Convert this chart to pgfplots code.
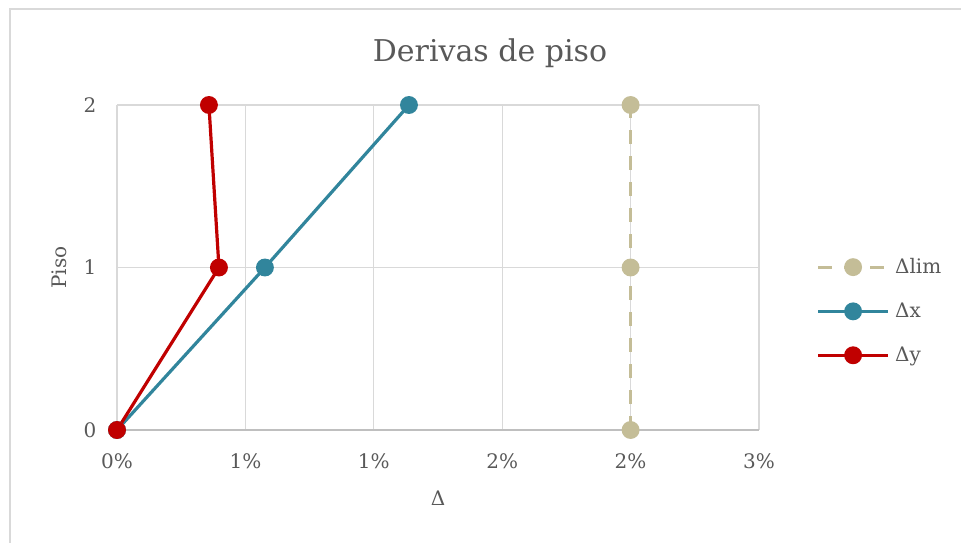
\documentclass[border=0pt]{standalone}
\usepackage{pgfplots}
\pgfplotsset{compat=1.18}
\usepackage{fontspec}
\setmainfont{DejaVu Serif}

\definecolor{txt}{HTML}{595959}
\definecolor{gridc}{HTML}{D9D9D9}
\definecolor{axisc}{HTML}{BFBFBF}
\definecolor{limc}{HTML}{C4BD97}
\definecolor{dxc}{HTML}{31859C}
\definecolor{dyc}{HTML}{C00000}

\begin{document}
\begin{tikzpicture}
\useasboundingbox (0pt,0pt) rectangle (720.75pt,407.25pt);
\clip (0pt,0pt) rectangle (720.75pt,407.25pt);
\begin{scope}[x=0.75pt,y=0.75pt]
% chart frame
\draw[gridc, line width=1.5pt] (10,-10) -- (10,534) -- (980,534);
% title
\node[txt, font=\fontsize{22.5}{26}\selectfont] at (490,490) {Derivas de piso};
\end{scope}

\begin{axis}[
  at={(87.75pt,84.75pt)}, anchor=south west,
  scale only axis, width=481.5pt, height=243.75pt,
  xmin=0, xmax=0.025, ymin=0, ymax=2,
  xtick={0,0.005,0.01,0.015,0.02,0.025},
  xticklabels={0\%,1\%,1\%,2\%,2\%,3\%},
  scaled x ticks=false,
  ytick={0,1,2},
  axis x line*=bottom, axis y line*=left,
  x axis line style={draw=axisc, line width=1pt, -},
  y axis line style={draw=gridc, line width=1pt, -},
  major tick length=0pt,
  grid=major, grid style={gridc, line width=1pt},
  tick label style={txt, font=\fontsize{15}{17}\selectfont},
  /pgf/number format/assume math mode=true,
  xticklabel style={yshift=-14pt},
  yticklabel style={xshift=-12pt},
  xlabel={Δ}, ylabel={Piso},
  label style={txt, font=\fontsize{15}{17}\selectfont},
  xlabel style={yshift=-10pt},
  ylabel style={yshift=6pt},
  clip=false,
  legend style={at={(1.089,0.366)}, anchor=west, draw=none, fill=none,
    text=txt, font=\fontsize{15}{17}\selectfont, row sep=16.5pt,
    inner sep=0pt,
    /tikz/every odd column/.append style={column sep=2pt}},
  legend cell align=left,
  legend image code/.code={\draw[mark repeat=2,mark phase=2,#1]
    plot coordinates {(0cm,0cm) (0.925cm,0cm) (1.85cm,0cm)};},
]
\addplot[limc, line width=2.4pt, dash pattern=on 10.5pt off 9pt,
  mark=*, mark size=5.5pt, mark options={solid, fill=limc, draw=limc}]
  coordinates {(0.02,0) (0.02,1) (0.02,2)};
\addlegendentry{Δlim}
\addplot[dxc, line width=2.4pt, mark=*, mark size=5.5pt,
  mark options={fill=dxc, draw=dxc}]
  coordinates {(0,0) (0.00576,1) (0.01137,2)};
\addlegendentry{Δx}
\addplot[dyc, line width=2.4pt, mark=*, mark size=5.5pt,
  mark options={fill=dyc, draw=dyc}]
  coordinates {(0,0) (0.00397,1) (0.00358,2)};
\addlegendentry{Δy}
\end{axis}
\end{tikzpicture}
\end{document}
